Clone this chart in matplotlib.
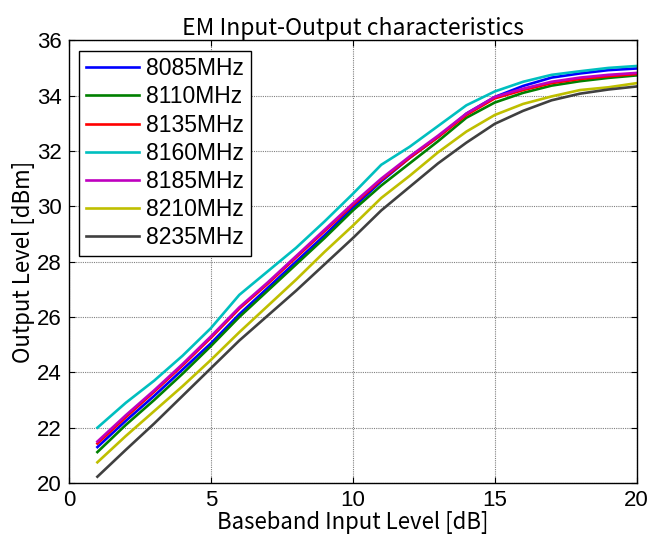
import matplotlib
matplotlib.use("Agg")
import matplotlib.pyplot as plt

x = list(range(1, 21))
labels = ["8085MHz", "8110MHz", "8135MHz", "8160MHz", "8185MHz", "8210MHz", "8235MHz"]
s8085 = [21.3, 22.25, 23.15, 24.1, 25.05, 26.1, 27.05, 28.0, 28.95, 29.95, 30.9, 31.75, 32.5, 33.35, 33.95, 34.35, 34.65, 34.8, 34.92, 34.98]
s8110 = [21.12, 22.1, 23.0, 23.95, 24.95, 26.0, 26.95, 27.9, 28.85, 29.85, 30.75, 31.55, 32.35, 33.2, 33.75, 34.1, 34.36, 34.52, 34.64, 34.73]
s8135 = [21.43, 22.38, 23.3, 24.25, 25.25, 26.3, 27.2, 28.15, 29.1, 30.05, 30.95, 31.75, 32.5, 33.3, 33.9, 34.2, 34.45, 34.6, 34.7, 34.78]
s8160 = [22.0, 22.9, 23.7, 24.6, 25.6, 26.8, 27.65, 28.5, 29.45, 30.45, 31.5, 32.15, 32.9, 33.65, 34.15, 34.5, 34.75, 34.88, 35.0, 35.07]
s8185 = [21.5, 22.45, 23.35, 24.3, 25.3, 26.35, 27.25, 28.2, 29.15, 30.1, 31.0, 31.8, 32.55, 33.35, 33.95, 34.25, 34.5, 34.65, 34.75, 34.82]
s8210 = [20.75, 21.7, 22.6, 23.5, 24.45, 25.45, 26.4, 27.35, 28.35, 29.3, 30.3, 31.1, 31.95, 32.7, 33.3, 33.7, 33.97, 34.2, 34.3, 34.45]
s8235 = [20.23, 21.2, 22.15, 23.15, 24.15, 25.15, 26.05, 26.95, 27.9, 28.85, 29.85, 30.7, 31.55, 32.3, 32.98, 33.45, 33.83, 34.07, 34.22, 34.33]
series = [s8085, s8110, s8135, s8160, s8185, s8210, s8235]
colors = ["#0000ff", "#008000", "#ff0000", "#00bfbf", "#bf00bf", "#bfbf00", "#404040"]

xticks = [0, 5, 10, 15, 20]
yticks = [20, 22, 24, 26, 28, 30, 32, 34, 36]

plt.rcParams['font.family'] = ['Liberation Sans', 'DejaVu Sans']

fig = plt.figure(figsize=(6.51, 5.44), dpi=100)
ax = fig.add_axes([0.106, 0.112, 0.872, 0.814])
for s, c, l in zip(series, colors, labels):
    ax.plot(x, s, color=c, lw=1.9, label=l)

ax.set_xlim(0, 20)
ax.set_ylim(20, 36)
ax.set_xticks(xticks)
ax.set_yticks(yticks)
ax.grid(True, color='#808080', linestyle=(0, (1, 1)), linewidth=0.8)
ax.tick_params(direction='in', labelsize=16, length=4, top=True, right=True, pad=5)
for sp in ax.spines.values():
    sp.set_linewidth(1.0)

tf = ['Noto Sans CJK JP', 'DejaVu Sans']
ax.set_title("EM Input-Output characteristics", fontsize=16.5, family=tf, pad=4)
ax.set_xlabel("Baseband Input Level [dB]", fontsize=16, family=tf, labelpad=0)
ax.set_ylabel("Output Level [dBm]", fontsize=16, family=tf, labelpad=2)

leg = ax.legend(loc='upper left', prop={'size': 16.5}, frameon=True, fancybox=False,
                edgecolor='black', framealpha=1, handlelength=2.3, handletextpad=0.3,
                borderaxespad=0.45, labelspacing=0.22, borderpad=0.3)
leg.get_frame().set_linewidth(1.0)

fig.savefig("out.png", dpi=100)
